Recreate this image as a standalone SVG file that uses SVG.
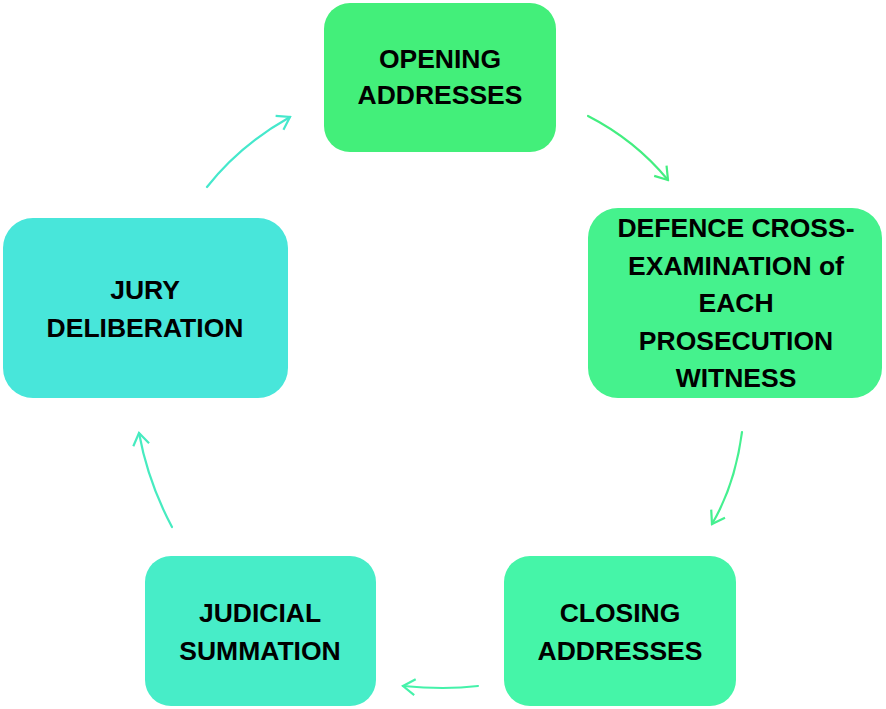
<svg xmlns="http://www.w3.org/2000/svg" width="886" height="709" viewBox="0 0 886 709">
<style>
.lbl{font-family:"Liberation Sans",Arial,sans-serif;font-weight:bold;font-size:26.5px;fill:#000;text-anchor:middle}
.con{fill:none;stroke-width:2.2;stroke-linecap:round}
</style>
<defs>
<marker id="m1" viewBox="0 0 20 20" refX="18" refY="10" markerWidth="20" markerHeight="20" markerUnits="userSpaceOnUse" orient="auto"><path d="M6,2 L18,10 L6,18" fill="none" stroke="#45E8CC" stroke-width="2.2"/></marker>
<marker id="m2" viewBox="0 0 20 20" refX="18" refY="10" markerWidth="20" markerHeight="20" markerUnits="userSpaceOnUse" orient="auto"><path d="M6,2 L18,10 L6,18" fill="none" stroke="#43EE80" stroke-width="2.2"/></marker>
<marker id="m3" viewBox="0 0 20 20" refX="18" refY="10" markerWidth="20" markerHeight="20" markerUnits="userSpaceOnUse" orient="auto"><path d="M6,2 L18,10 L6,18" fill="none" stroke="#45F090" stroke-width="2.2"/></marker>
<marker id="m4" viewBox="0 0 20 20" refX="18" refY="10" markerWidth="20" markerHeight="20" markerUnits="userSpaceOnUse" orient="auto"><path d="M6,2 L18,10 L6,18" fill="none" stroke="#45F2AA" stroke-width="2.2"/></marker>
<marker id="m5" viewBox="0 0 20 20" refX="18" refY="10" markerWidth="20" markerHeight="20" markerUnits="userSpaceOnUse" orient="auto"><path d="M6,2 L18,10 L6,18" fill="none" stroke="#47EBC0" stroke-width="2.2"/></marker>
</defs>
<rect width="886" height="709" fill="#fff"/>
<g id="connectors">
<path class="con" d="M207,187 Q240,145 290,117" stroke="#45E8CC" marker-end="url(#m1)"/>
<path class="con" d="M588,116 Q635,140 668,180" stroke="#43EE80" marker-end="url(#m2)"/>
<path class="con" d="M742,432 Q735,485 712,524" stroke="#45F090" marker-end="url(#m3)"/>
<path class="con" d="M478,686 Q445,690 403,686" stroke="#45F2AA" marker-end="url(#m4)"/>
<path class="con" d="M172,527 Q148,482 139,433" stroke="#47EBC0" marker-end="url(#m5)"/>
</g>
<g id="opening">
<rect x="324" y="3" width="232" height="149" rx="26" fill="#43EF7A"/>
<text class="lbl" x="440" y="68">OPENING</text>
<text class="lbl" x="440" y="104">ADDRESSES</text>
</g>
<g id="defence">
<rect x="588" y="208" width="294" height="190" rx="30" fill="#45F28D"/>
<text class="lbl" x="736" y="237">DEFENCE CROSS-</text>
<text class="lbl" x="736" y="275">EXAMINATION of</text>
<text class="lbl" x="736" y="312">EACH</text>
<text class="lbl" x="736" y="350">PROSECUTION</text>
<text class="lbl" x="736" y="387">WITNESS</text>
</g>
<g id="closing">
<rect x="504" y="556" width="232" height="150" rx="26" fill="#45F5A8"/>
<text class="lbl" x="620" y="622">CLOSING</text>
<text class="lbl" x="620" y="660">ADDRESSES</text>
</g>
<g id="judicial">
<rect x="145" y="556" width="231" height="150" rx="26" fill="#47EDC8"/>
<text class="lbl" x="260" y="622">JUDICIAL</text>
<text class="lbl" x="260" y="660">SUMMATION</text>
</g>
<g id="jury">
<rect x="3" y="218" width="285" height="180" rx="30" fill="#48E6DA"/>
<text class="lbl" x="145" y="299">JURY</text>
<text class="lbl" x="145" y="337">DELIBERATION</text>
</g>
</svg>
